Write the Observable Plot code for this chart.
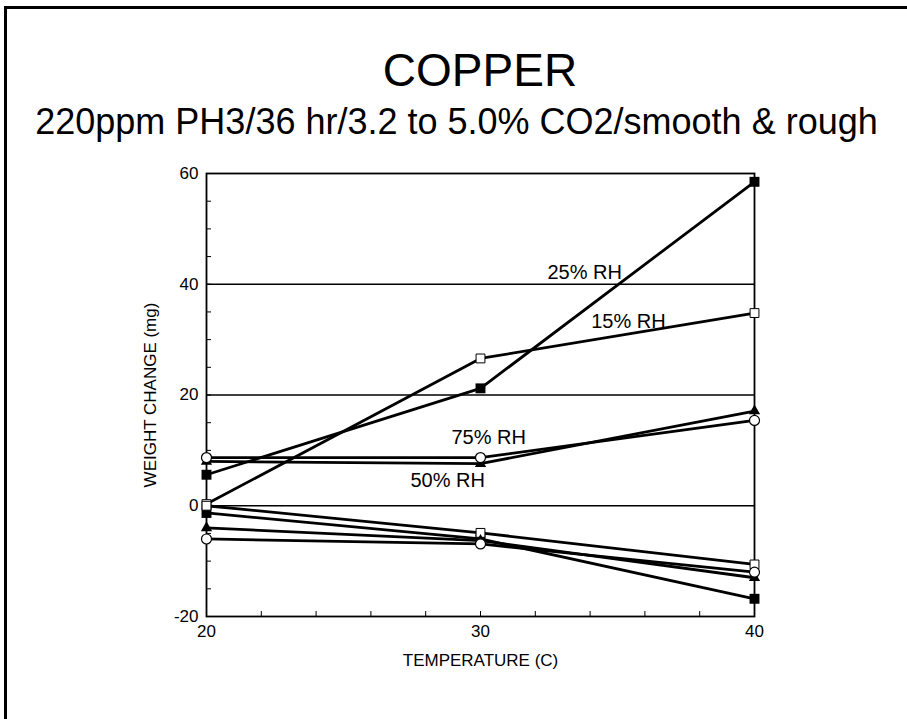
<!DOCTYPE html>
<html><head><meta charset="utf-8">
<script src="https://cdn.jsdelivr.net/npm/d3@7"></script>
<script src="https://cdn.jsdelivr.net/npm/@observablehq/plot@0.6"></script>
<style>
html,body{margin:0;padding:0;background:#fff;width:907px;height:719px;overflow:hidden;font-family:"Liberation Sans",Arial,Helvetica,sans-serif;color:#000;}
#wrap{position:relative;width:907px;height:719px;}
#border{position:absolute;left:4px;top:6px;width:1000px;height:1000px;border-left:3px solid #000;border-top:3px solid #000;box-sizing:border-box;}
#title{position:absolute;left:0;width:960px;top:47px;text-align:center;font-size:46px;line-height:46px;white-space:nowrap;}
#subtitle{position:absolute;left:0;width:913px;top:104px;text-align:center;font-size:36px;line-height:36px;white-space:nowrap;}
#chart{position:absolute;left:0;top:0;}
</style></head>
<body><div id="wrap"><div id="border"></div><div id="chart"></div>
<div id="title">COPPER</div>
<div id="subtitle">220ppm PH3/36 hr/3.2 to 5.0% CO2/smooth &amp; rough</div>
</div>
<script>
// Data
const temps = [20, 30, 40];
// upper set
const rh15Upper = [0.3, 26.6, 34.8];   // open square
const rh25Upper = [5.6, 21.2, 58.5];   // filled square
const rh50Upper = [8.0, 7.6, 17.1];    // filled triangle
const rh75Upper = [8.7, 8.7, 15.4];    // open circle
// lower set
const rh15Lower = [0.0, -4.9, -10.6];
const rh25Lower = [-1.3, -6.0, -16.8];
const rh50Lower = [-4.0, -6.3, -13.0];
const rh75Lower = [-6.0, -6.9, -12.0];

const yMajorTicks = [-20, 0, 20, 40, 60];
const yMinorTicks = d3.range(-20, 61, 5);
const xMajorTicks = [20, 30, 40];
const xMinorTicks = d3.range(20, 41, 2);
const gridValues = [0, 20, 40];

const labelText = ["25% RH", "15% RH", "75% RH", "50% RH"];
const labelTemp = [33.8, 35.4, 30.3, 28.8];
const labelWeight = [42.1, 33.2, 12.3, 4.5];

const seriesDefs = [
  {rh: "15% RH", set: "upper", values: rh15Upper},
  {rh: "25% RH", set: "upper", values: rh25Upper},
  {rh: "50% RH", set: "upper", values: rh50Upper},
  {rh: "75% RH", set: "upper", values: rh75Upper},
  {rh: "15% RH", set: "lower", values: rh15Lower},
  {rh: "25% RH", set: "lower", values: rh25Lower},
  {rh: "50% RH", set: "lower", values: rh50Lower},
  {rh: "75% RH", set: "lower", values: rh75Lower}
];
const rows = seriesDefs.flatMap(s => s.values.map((v, i) => ({rh: s.rh, series: s.rh + " " + s.set, temp: temps[i], value: v})));
const labels = labelText.map((t, i) => ({text: t, temp: labelTemp[i], value: labelWeight[i]}));

const fmt = d => String(d);

const chart = Plot.plot({
  width: 907, height: 719,
  marginLeft: 206, marginRight: 153, marginTop: 173, marginBottom: 103,
  x: {domain: [20, 40]},
  y: {domain: [-20, 60]},
  style: {fontFamily: '"Liberation Sans", Arial, Helvetica, sans-serif', fontSize: "16px", color: "#000", background: "transparent", overflow: "visible"},
  marks: [
    Plot.ruleY(gridValues, {stroke: "#000", strokeWidth: 1.3}),
    Plot.frame({stroke: "#000", strokeWidth: 1.8}),
    Plot.axisY(yMajorTicks, {tickSize: 0, tickPadding: 8, tickFormat: fmt, fontSize: 17, label: "WEIGHT CHANGE (mg)", labelAnchor: "center", labelArrow: "none", labelOffset: 63}),
    Plot.axisY(yMinorTicks, {tickSize: -5, text: null, label: null, strokeWidth: 1}),
    Plot.axisX(xMajorTicks, {tickSize: 0, tickPadding: 8, tickFormat: fmt, fontSize: 17, label: "TEMPERATURE (C)", labelAnchor: "center", labelArrow: "none", labelOffset: 49}),
    Plot.axisX(xMinorTicks, {tickSize: -5, text: null, label: null, strokeWidth: 1}),
    Plot.line(rows, {x: "temp", y: "value", z: "series", stroke: "#000", strokeWidth: 2.8}),
    Plot.dot(rows.filter(d => d.rh === "25% RH"), {x: "temp", y: "value", symbol: "square", r: 5.6, fill: "#000", stroke: "none"}),
    Plot.dot(rows.filter(d => d.rh === "15% RH"), {x: "temp", y: "value", symbol: "square", r: 5, fill: "#fff", stroke: "#000", strokeWidth: 1}),
    Plot.dot(rows.filter(d => d.rh === "50% RH"), {x: "temp", y: "value", symbol: "triangle", r: 4.2, fill: "#000", stroke: "none"}),
    Plot.dot(rows.filter(d => d.rh === "75% RH"), {x: "temp", y: "value", symbol: "circle", r: 5, fill: "#fff", stroke: "#000", strokeWidth: 1.2}),
    Plot.text(labels, {x: "temp", y: "value", text: "text", fontSize: 20, fill: "#000"})
  ]
});
document.getElementById("chart").appendChild(chart);
</script>
</body></html>
